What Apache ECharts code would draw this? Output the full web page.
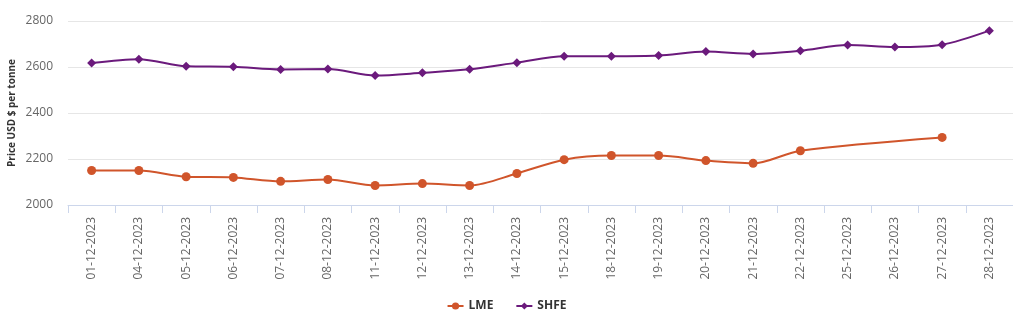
<!DOCTYPE html>
<html>
<head>
<meta charset="utf-8">
<script src="https://cdn.jsdelivr.net/npm/echarts@6/dist/echarts.min.js"></script>
<style>html,body{margin:0;padding:0;background:#fff}#c{width:1013px;height:325px}</style>
</head>
<body>
<div id="c"></div>
<script>
const categories = ["01-12-2023","04-12-2023","05-12-2023","06-12-2023","07-12-2023","08-12-2023","11-12-2023","12-12-2023","13-12-2023","14-12-2023","15-12-2023","18-12-2023","19-12-2023","20-12-2023","21-12-2023","22-12-2023","25-12-2023","26-12-2023","27-12-2023","28-12-2023"];
const lme = [2150,2150,2123,2120,2103,2111,2085,2093,2085,2137,2197,2215,2215,2193,2181,2236,null,null,2294,null];
const shfe = [2617,2634,2603,2601,2589,2591,2563,2575,2590,2619,2647,2647,2650,2667,2657,2671,2696,2687,2697,2758];
const yTicks = {min:2000, max:2800, interval:200};

const chart = echarts.init(document.getElementById('c'));
chart.setOption({
  animation:false,
  textStyle:{fontFamily:'"Open Sans", sans-serif'},
  grid:{left:68,right:0,top:21,bottom:120,containLabel:false,outerBoundsMode:'none'},
  legend:{
    bottom:8, left:'center', itemGap:22, itemWidth:16, itemHeight:9,
    textStyle:{fontSize:12,fontWeight:'bold',color:'#333'},
    data:['LME','SHFE']
  },
  xAxis:{
    type:'category', data:categories, boundaryGap:true,
    axisLine:{lineStyle:{color:'#ccd6eb'}},
    axisTick:{show:true,length:8,lineStyle:{color:'#ccd6eb'}},
    axisLabel:{rotate:90,color:'#666',fontSize:12,margin:12,interval:0}
  },
  yAxis:{
    type:'value', min:yTicks.min, max:yTicks.max, interval:yTicks.interval,
    name:'Price USD $ per tonne', nameLocation:'middle', nameGap:51, nameMoveOverlap:false,
    nameTextStyle:{fontSize:10,fontWeight:'bold',color:'#333'},
    axisLine:{show:false}, axisTick:{show:false},
    axisLabel:{color:'#666',fontSize:12,margin:15,formatter:function(v){return String(v);}},
    splitLine:{lineStyle:{color:'#e6e6e6'}}
  },
  series:[
    {name:'LME',type:'line',data:lme,smooth:0.3,connectNulls:true,
     symbol:'circle',symbolSize:9,
     itemStyle:{color:'#d0552b'},lineStyle:{width:2,color:'#d0552b'}},
    {name:'SHFE',type:'line',data:shfe,smooth:0.3,
     symbol:'diamond',symbolSize:9,
     itemStyle:{color:'#6b1a7c'},lineStyle:{width:2,color:'#6b1a7c'}}
  ]
});
</script>
</body>
</html>
